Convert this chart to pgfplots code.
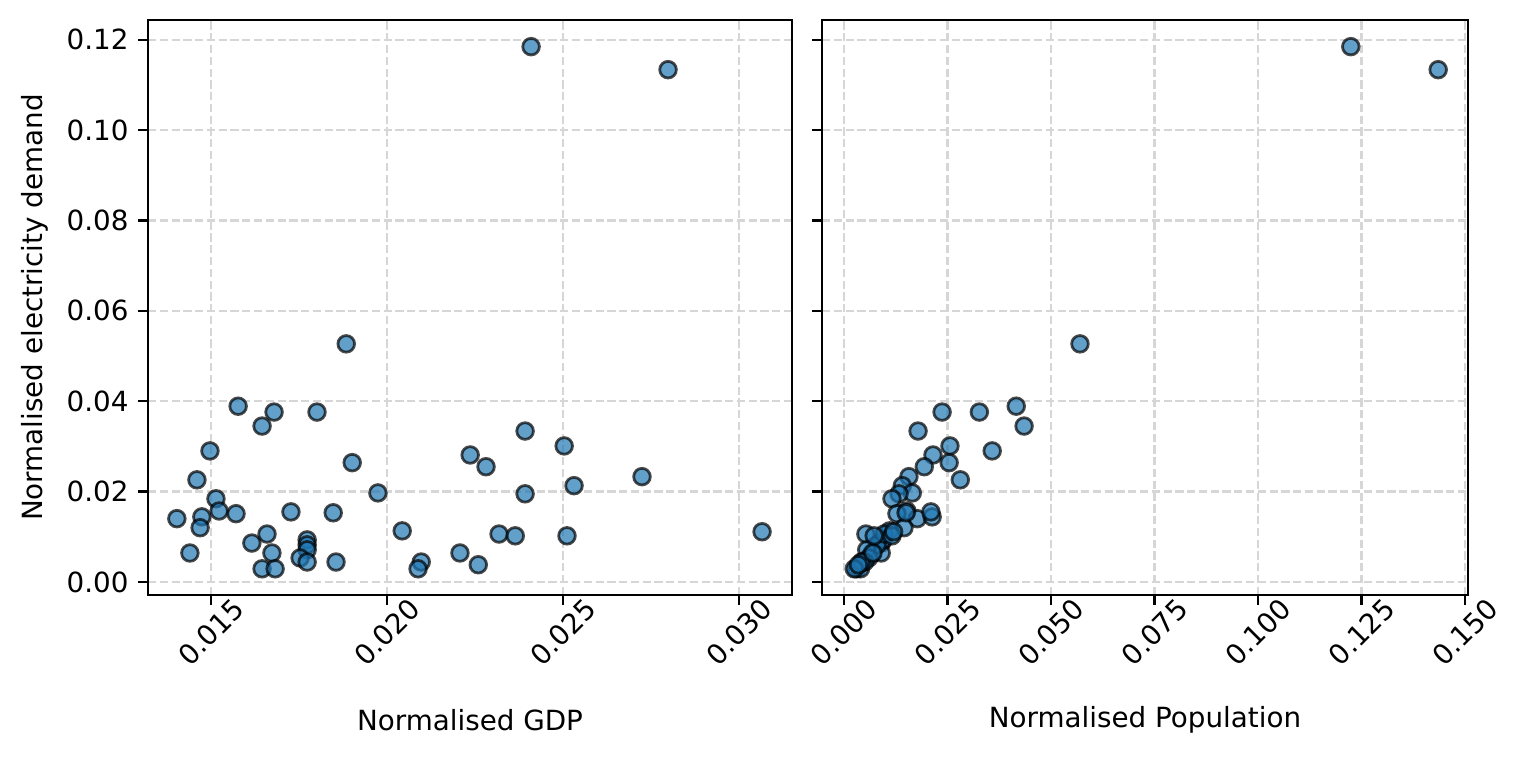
\documentclass[border=0pt]{standalone}
\usepackage{fontspec}
\setmainfont{DejaVu Sans}
\usepackage{pgfplots}
\pgfplotsset{compat=1.18}
\definecolor{cblue}{HTML}{1F77B4}
\definecolor{gridc}{HTML}{D6D6D6}

\pgfplotsset{
  panel/.style={
    scale only axis, height=207pt,
    ymin=-0.0029, ymax=0.1244,
    ytick={0,0.02,0.04,0.06,0.08,0.10,0.12},
    axis line style={line width=0.8pt},
    every tick/.style={black, line width=0.8pt},
    major tick length=3.5pt,
    tick align=outside,
    xtick pos=left, ytick pos=left,
    grid=major,
    major grid style={gridc, line width=0.8pt, dash pattern=on 2.96pt off 1.28pt},
    scaled ticks=false,
    tick label style={font=\fontsize{10}{12}\selectfont},
    label style={font=\fontsize{10}{12}\selectfont},
    /pgf/number format/assume math mode=true,
    yticklabel style={/pgf/number format/.cd, fixed, fixed zerofill, precision=2},
    xticklabel style={rotate=45, anchor=center, xshift=-7pt, yshift=-7pt,
      /pgf/number format/.cd, fixed, fixed zerofill, precision=3},
    xlabel style={at={(rel axis cs:0.5,0)}, anchor=center, yshift=-45pt},
  },
  dots/.style={only marks, mark=*, mark size=3pt,
    mark options={fill=cblue, fill opacity=0.7, draw=black, draw opacity=0.7, line width=1pt}},
}

\begin{document}
\begin{tikzpicture}
\useasboundingbox (0,0) rectangle (549.36pt,272.88pt);

\begin{axis}[panel, at={(53.28pt,58.68pt)}, anchor=south west, width=231.84pt,
  xmin=0.01321, xmax=0.0315,
  xtick={0.015,0.020,0.025,0.030},
  xlabel={Normalised GDP},
  ylabel={Normalised electricity demand},
  ylabel style={at={(rel axis cs:0,0.5)}, anchor=center, yshift=40.7pt}]
\addplot[dots] table {
x y
0.02409 0.1185
0.02798 0.1134
0.01884 0.0527
0.01577 0.0389
0.01679 0.0376
0.01801 0.0376
0.01645 0.0345
0.02392 0.0334
0.02503 0.0301
0.01497 0.0290
0.02236 0.0281
0.02281 0.0255
0.01901 0.0264
0.02724 0.0233
0.01460 0.0226
0.02531 0.0213
0.01974 0.0197
0.02392 0.0195
0.01514 0.0184
0.01523 0.0157
0.01571 0.0151
0.01403 0.0140
0.01474 0.0144
0.01469 0.0120
0.01440 0.0064
0.01727 0.0155
0.01847 0.0153
0.02043 0.0113
0.01616 0.0086
0.01659 0.0106
0.01673 0.0064
0.01645 0.0029
0.01682 0.0029
0.01773 0.0093
0.01773 0.0082
0.01773 0.0071
0.01753 0.0053
0.01773 0.0044
0.01855 0.0044
0.02097 0.0044
0.02088 0.0029
0.02207 0.0064
0.02259 0.0038
0.02318 0.0106
0.02364 0.0102
0.02511 0.0102
0.03065 0.0111
};
\end{axis}

\begin{axis}[panel, at={(295.92pt,58.68pt)}, anchor=south west, width=232.56pt,
  xmin=-0.0053, xmax=0.1507,
  xtick={0,0.025,0.05,0.075,0.1,0.125,0.15},
  yticklabels={},
  xlabel={Normalised Population}]
\addplot[dots] table {
x y
0.1224 0.1185
0.1435 0.1134
0.0570 0.0527
0.0416 0.0389
0.0237 0.0376
0.0327 0.0376
0.0435 0.0345
0.0179 0.0334
0.0256 0.0301
0.0358 0.0290
0.0215 0.0281
0.0194 0.0255
0.0254 0.0264
0.0157 0.0233
0.0281 0.0226
0.0141 0.0213
0.0165 0.0197
0.0133 0.0195
0.0116 0.0184
0.0152 0.0157
0.0128 0.0151
0.0177 0.0140
0.0213 0.0144
0.0145 0.0120
0.0068 0.0064
0.0210 0.0155
0.0150 0.0153
0.0110 0.0113
0.0090 0.0086
0.0053 0.0106
0.0090 0.0064
0.0030 0.0029
0.0040 0.0029
0.0095 0.0093
0.0080 0.0082
0.0055 0.0071
0.0060 0.0053
0.0045 0.0044
0.0050 0.0044
0.0042 0.0044
0.0025 0.0029
0.0070 0.0064
0.0035 0.0038
0.0097 0.0106
0.0073 0.0102
0.0116 0.0102
0.0120 0.0111
};
\end{axis}
\end{tikzpicture}
\end{document}
